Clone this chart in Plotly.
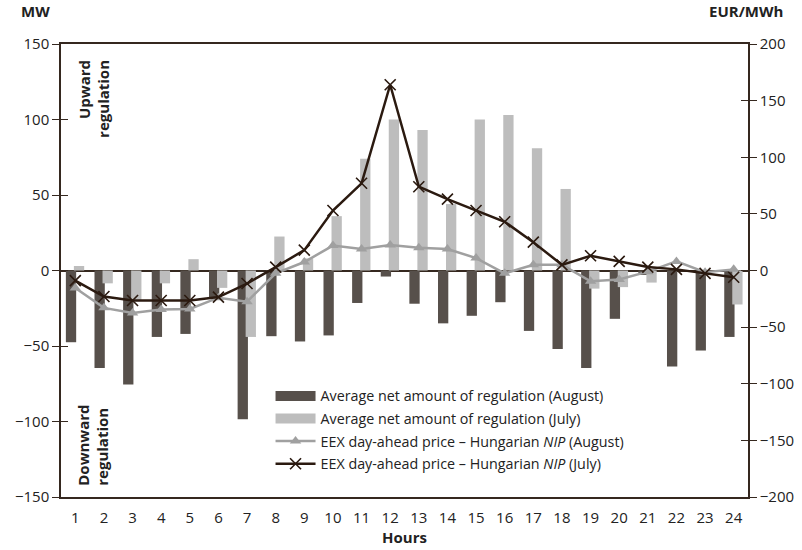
import plotly.graph_objects as go

hours = list(range(1, 25))
hour_labels = [str(h) for h in hours]

reg_august = [-47.5, -64.5, -75.5, -44, -42, -18, -98.5, -43.5, -47, -43, -21.5, -4,
              -22, -35, -30, -21, -40, -52, -64.5, -32, -3, -63.5, -53, -44]
reg_july = [3, -8.5, -19.5, -8.5, 7.5, -11.5, -44, 22.5, 8, 36, 74, 100,
            93, 44, 100, 103, 81, 54, -12, -11, -8, 0, 0, -22.5]
price_august = [-15.5, -33, -37.5, -34.5, -34, -24, -27.5, -2.5, 7.5, 22, 19, 22.5,
                20, 19, 11, -2.5, 5, 5, -9.5, -8, -1, 8, -1.5, 1]
price_july = [-9, -23, -26.5, -26.5, -26.5, -23.5, -11.5, 3, 18, 53, 77, 164,
              74, 63, 53, 43, 25, 5, 13, 8, 3, 1, -2.5, -6]

left_ticks = [-150, -100, -50, 0, 50, 100, 150]
right_ticks = [-200, -150, -100, -50, 0, 50, 100, 150, 200]

FONT = "Open Sans"
AX = "#35281f"
DARK = "#57504b"
LIGHT = "#bdbdbd"
GRAY = "#a0a0a0"
BLACK = "#2b1a10"

name_aug_bar = "Average net amount of regulation (August)"
name_jul_bar = "Average net amount of regulation (July)"

fig = go.Figure()
fig.add_trace(go.Bar(x=hours, y=reg_august, name=name_aug_bar, showlegend=False,
                     legendgroup="a", marker=dict(color=DARK, line=dict(width=0)),
                     width=0.36, offset=-0.33))
fig.add_trace(go.Bar(x=hours, y=reg_july, name=name_jul_bar, showlegend=False,
                     legendgroup="b", marker=dict(color=LIGHT, line=dict(width=0)),
                     width=0.36, offset=-0.05))
# legend keys for the bars (wide rectangular swatches)
fig.add_trace(go.Scatter(x=[None], y=[None], mode="lines", name=name_aug_bar,
                         legendgroup="a", line=dict(color=DARK, width=10), hoverinfo="skip"))
fig.add_trace(go.Scatter(x=[None], y=[None], mode="lines", name=name_jul_bar,
                         legendgroup="b", line=dict(color=LIGHT, width=10), hoverinfo="skip"))
fig.add_trace(go.Scatter(x=hours, y=price_august, yaxis="y2", mode="lines+markers",
                         legendgroup="c",
                         name="EEX day-ahead price – Hungarian <i>NIP</i> (August)",
                         line=dict(color=GRAY, width=2.5),
                         marker=dict(symbol="triangle-up", size=10, color=GRAY)))
fig.add_trace(go.Scatter(x=hours, y=price_july, yaxis="y2", mode="lines+markers",
                         legendgroup="d",
                         name="EEX day-ahead price – Hungarian <i>NIP</i> (July)",
                         line=dict(color=BLACK, width=2.5),
                         marker=dict(symbol="x-thin-open", size=11, color=BLACK,
                                     line=dict(color=BLACK, width=1.6))))
# helper invisible traces for inner tick marks
fig.add_trace(go.Scatter(x=[], y=[], yaxis="y3", showlegend=False, hoverinfo="skip"))
fig.add_trace(go.Scatter(x=[], y=[], yaxis="y4", showlegend=False, hoverinfo="skip"))

tickfont = dict(family=FONT, size=15, color="#222")

fig.update_layout(
    width=802, height=550,
    margin=dict(l=61, r=54, t=44, b=53, autoexpand=False),
    paper_bgcolor="white", plot_bgcolor="white",
    barmode="overlay",
    showlegend=True,
    legend=dict(x=0.305, y=0.258, xanchor="left", yanchor="top",
                font=dict(family=FONT, size=14.3, color="#222"),
                bgcolor="rgba(0,0,0,0)", tracegroupgap=1, itemwidth=40,
                traceorder="grouped"),
    xaxis=dict(range=[0.5, 24.5], tickvals=hours, ticktext=hour_labels,
               ticks="", showgrid=False, zeroline=False, automargin=False,
               showline=True, linecolor=AX, linewidth=1.5, mirror=True,
               tickfont=tickfont, ticklabelstandoff=6,
               title=dict(text="<b>Hours</b>", font=dict(family=FONT, size=15, color="#222"),
                          standoff=2)),
    yaxis=dict(range=[-150, 150], tickvals=left_ticks, ticks="outside", ticklen=7,
               tickcolor=AX, tickwidth=1.2, showgrid=False, automargin=False,
               zeroline=True, zerolinecolor=AX, zerolinewidth=2,
               showline=True, linecolor=AX, linewidth=1.5, tickfont=tickfont,
               ticklabelstandoff=0),
    yaxis2=dict(range=[-200, 200], tickvals=right_ticks, overlaying="y", side="right",
                ticks="outside", ticklen=7, tickcolor=AX, tickwidth=1.2, automargin=False,
                showgrid=False, zeroline=False,
                showline=True, linecolor=AX, linewidth=1.5, tickfont=tickfont,
                ticklabelstandoff=0),
    yaxis3=dict(range=[-150, 150], tickvals=left_ticks, overlaying="y", side="left",
                ticks="inside", ticklen=7, tickcolor=AX, tickwidth=1.2, automargin=False,
                showticklabels=False, showgrid=False, zeroline=False, showline=False),
    yaxis4=dict(range=[-200, 200], tickvals=right_ticks, overlaying="y", side="right",
                ticks="inside", ticklen=7, tickcolor=AX, tickwidth=1.2, automargin=False,
                showticklabels=False, showgrid=False, zeroline=False, showline=False),
)

title_font = dict(family=FONT, size=15, color="#222")
fig.add_annotation(text="<b>MW</b>", xref="paper", yref="paper", x=-0.061, y=1.0,
                   xanchor="left", yanchor="bottom", yshift=21, showarrow=False, font=title_font)
fig.add_annotation(text="<b>EUR/MWh</b>", xref="paper", yref="paper", x=1.0, y=1.0,
                   xanchor="right", yanchor="bottom", xshift=37, yshift=21, showarrow=False,
                   font=title_font)
fig.add_annotation(text="<b>Upward<br>regulation</b>", xref="paper", yref="paper",
                   x=0.047, y=0.97, xanchor="center", yanchor="top", textangle=-90,
                   align="right", showarrow=False, font=title_font)
fig.add_annotation(text="<b>Downward<br>regulation</b>", xref="paper", yref="paper",
                   x=0.047, y=0.02, xanchor="center", yanchor="bottom", textangle=-90,
                   align="left", showarrow=False, font=title_font)

fig.write_html("out.html", config={"displayModeBar": False},
               post_script="document.body.style.margin='0';document.body.style.overflow='hidden';")
